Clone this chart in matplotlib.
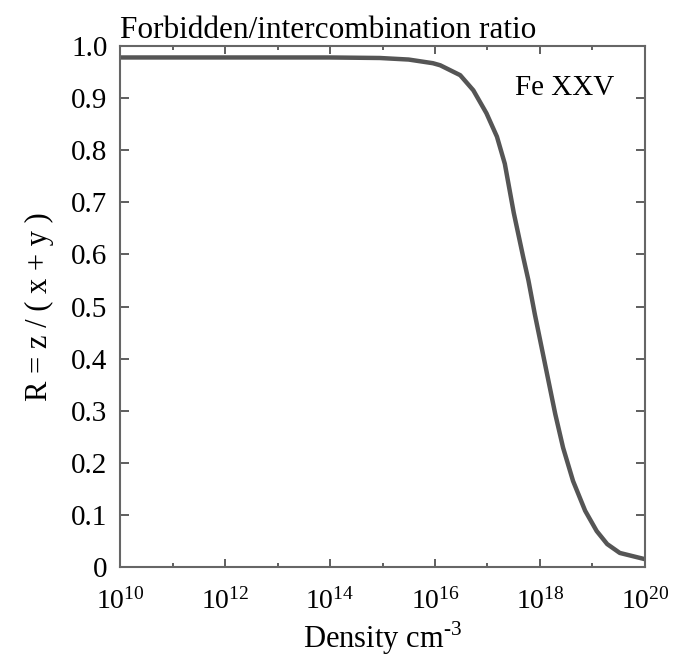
import numpy as np
import matplotlib
matplotlib.use("Agg")
import matplotlib.pyplot as plt
from matplotlib.ticker import FixedLocator, NullFormatter

plt.rcParams['font.family'] = ['Liberation Serif', 'DejaVu Serif']
plt.rcParams['mathtext.fontset'] = 'custom'
plt.rcParams['mathtext.rm'] = 'Liberation Serif'

# log10 of electron density (cm^-3) and the ratio R
log_density = [10, 12, 14, 14.95, 15.5, 15.96, 16.1, 16.48, 16.73, 16.98,
               17.18, 17.33, 17.5, 17.68, 17.78, 17.9, 18.03, 18.16, 18.29,
               18.44, 18.63, 18.86, 19.08, 19.28, 19.52, 20]
ratio = [0.978, 0.978, 0.978, 0.977, 0.974, 0.967, 0.963, 0.944, 0.915,
         0.871, 0.826, 0.774, 0.68, 0.595, 0.55, 0.486, 0.422, 0.358,
         0.294, 0.229, 0.165, 0.108, 0.069, 0.044, 0.027, 0.015]

xtick_exp = [10, 12, 14, 16, 18, 20]
ytick_vals = [0, 0.1, 0.2, 0.3, 0.4, 0.5, 0.6, 0.7, 0.8, 0.9, 1.0]
ytick_labels = ['0', '0.1', '0.2', '0.3', '0.4', '0.5', '0.6', '0.7', '0.8', '0.9', '1.0']

fig = plt.figure(figsize=(6.8, 6.62), dpi=100)
ax = fig.add_axes([0.1765, 0.1435, 0.772, 0.787])

dens = 10.0 ** np.array(log_density)
ax.plot(dens, ratio, color='#555555', lw=3.2, solid_capstyle='butt')

ax.set_xscale('log')
ax.set_xlim(1e10, 1e20)
ax.set_ylim(0, 1.0)

ax.xaxis.set_major_locator(FixedLocator([10.0 ** e for e in xtick_exp]))
ax.set_xticklabels([r'$\mathregular{10^{%d}}$' % e for e in xtick_exp])
ax.xaxis.set_minor_locator(FixedLocator([10.0 ** e for e in range(11, 20, 2)]))
ax.xaxis.set_minor_formatter(NullFormatter())

ax.set_yticks(ytick_vals)
ax.set_yticklabels(ytick_labels)

ax.tick_params(axis='both', which='both', direction='in', top=True, right=True,
               color='#333333', width=1.1)
ax.tick_params(axis='x', which='major', length=5.8, pad=15, labelsize=20)
ax.tick_params(axis='x', which='minor', length=3.2)
ax.tick_params(axis='y', which='major', length=6.5, pad=9, labelsize=21)

for s in ax.spines.values():
    s.set_color('#666666')
    s.set_linewidth(1.5)

ax.set_title('Forbidden/intercombination ratio', loc='left', fontsize=22.5, pad=6)
ax.set_xlabel(r'Density cm$^{\mathregular{\text{-}3}}$', fontsize=22, labelpad=4)
ax.set_ylabel('R = z / ( x + y )', fontsize=22, labelpad=12)
ax.text(0.752, 0.919, 'Fe XXV', transform=ax.transAxes, fontsize=21,
        ha='left', va='center')

fig.savefig('out.png', dpi=100)
